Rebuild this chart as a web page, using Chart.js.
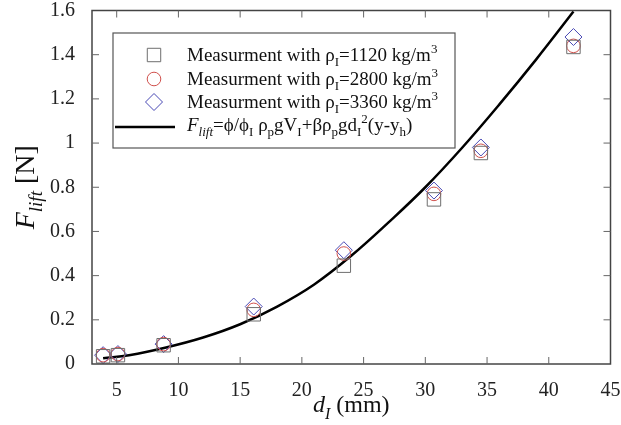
<!DOCTYPE html>
<html lang="en">
  <head>
    <meta charset="UTF-8" />
    <title>Lift force vs diameter</title>
    <script src="https://cdn.jsdelivr.net/npm/chart.js"></script>
    <style>
      body {
        margin: 0;
        background: white;
      }
      .wrap {
        width: 621px;
        height: 425px;
      }
    </style>
  </head>
  <body>
    <div class="wrap"><canvas id="liftChart" width="621" height="425"></canvas></div>

    <script>
      // measured sphere diameters d_I (mm)
      let diameters = [3.9, 5.1, 8.8, 16.1, 23.4, 30.7, 34.5, 42];
      // F_lift (N) for each density
      let lift1120 = [0.035, 0.04, 0.085, 0.225, 0.445, 0.745, 0.955, 1.435];
      let lift2800 = [0.04, 0.045, 0.09, 0.245, 0.5, 0.77, 0.965, 1.44];
      let lift3360 = [0.04, 0.045, 0.09, 0.26, 0.515, 0.785, 0.98, 1.48];
      // model curve
      let curveD = [3.9, 6, 9, 12, 15, 18, 21, 24, 27, 30, 33, 36, 39, 42];
      let curveF = [0.026, 0.04, 0.075, 0.12, 0.18, 0.26, 0.36, 0.49, 0.64, 0.8, 0.98, 1.175, 1.38, 1.595];

      let xTicks = [5, 10, 15, 20, 25, 30, 35, 40, 45];
      let yTicks = [0, 0.2, 0.4, 0.6, 0.8, 1, 1.2, 1.4, 1.6];

      const SERIF = "'Liberation Serif', 'DejaVu Serif', serif";

      function toPoints(xs, ys) {
        return xs.map((x, i) => ({ x: x, y: ys[i] }));
      }

      // draw text runs: [text, mode] mode: "" normal, "i" italic, "s" sub, "S" sup, "is" italic sub
      function runFont(mode, size) {
        let small = mode.includes("s") || mode.includes("S");
        let italic = mode.includes("i");
        return (italic ? "italic " : "") + Math.round(small ? size * 0.68 : size) + "px " + SERIF;
      }
      function runWidth(ctx, runs, size) {
        let w = 0;
        runs.forEach((r) => {
          ctx.font = runFont(r[1], size);
          w += ctx.measureText(r[0]).width;
        });
        return w;
      }
      function drawRich(ctx, runs, x, y, size, align) {
        let w = runWidth(ctx, runs, size);
        let cx = align === "center" ? x - w / 2 : x;
        ctx.textAlign = "left";
        ctx.textBaseline = "alphabetic";
        runs.forEach((r) => {
          ctx.font = runFont(r[1], size);
          let dy = 0;
          if (r[1].includes("s")) dy = size * 0.28;
          if (r[1].includes("S")) dy = -size * 0.42;
          ctx.fillText(r[0], cx, y + dy);
          cx += ctx.measureText(r[0]).width;
        });
      }

      const frameAndText = {
        id: "frameAndText",
        afterDraw(chart) {
          let ctx = chart.ctx;
          let a = chart.chartArea;
          let xs = chart.scales.x;
          let ys = chart.scales.y;
          ctx.save();
          // frame
          ctx.strokeStyle = "#444";
          ctx.lineWidth = 1.5;
          ctx.strokeRect(a.left, a.top, a.right - a.left, a.bottom - a.top);
          // inward ticks on all sides
          ctx.lineWidth = 1;
          ctx.strokeStyle = "#666";
          ctx.beginPath();
          xTicks.forEach((v) => {
            let px = xs.getPixelForValue(v);
            if (px <= a.left + 1 || px >= a.right - 1) return;
            ctx.moveTo(px, a.bottom);
            ctx.lineTo(px, a.bottom - 7);
            ctx.moveTo(px, a.top);
            ctx.lineTo(px, a.top + 7);
          });
          yTicks.forEach((v) => {
            let py = ys.getPixelForValue(v);
            if (py <= a.top + 1 || py >= a.bottom - 1) return;
            ctx.moveTo(a.left, py);
            ctx.lineTo(a.left + 7, py);
            ctx.moveTo(a.right, py);
            ctx.lineTo(a.right - 7, py);
          });
          ctx.stroke();

          // legend box
          ctx.fillStyle = "white";
          ctx.fillRect(113, 33, 342, 115);
          ctx.strokeStyle = "#555";
          ctx.lineWidth = 1.2;
          ctx.strokeRect(113, 33, 342, 115);

          let rows = [
            { y: 55, label: "1120", ds: chart.data.datasets[0] },
            { y: 79, label: "2800", ds: chart.data.datasets[1] },
            { y: 102, label: "3360", ds: chart.data.datasets[2] },
          ];
          rows.forEach((r) => {
            ctx.strokeStyle = r.ds.borderColor;
            ctx.fillStyle = "rgba(0,0,0,0)";
            ctx.lineWidth = 1;
            Chart.helpers.drawPoint(ctx, { pointStyle: r.ds.pointStyle, radius: r.ds.pointRadius, borderWidth: 1 }, 154, r.y);
            ctx.fillStyle = "#111";
            drawRich(ctx, [["Measurment with ρ", ""], ["I", "s"], ["=" + r.label + " kg/m", ""], ["3", "S"]], 187, r.y + 6, 18.5, "left");
          });
          ctx.strokeStyle = "#000";
          ctx.lineWidth = 2.5;
          ctx.beginPath();
          ctx.moveTo(115, 127);
          ctx.lineTo(175, 127);
          ctx.stroke();
          ctx.fillStyle = "#111";
          drawRich(
            ctx,
            [
              ["F", "i"], ["lift", "is"], ["=ϕ/ϕ", ""], ["I", "s"], [" ρ", ""], ["p", "s"], ["gV", ""], ["I", "s"],
              ["+βρ", ""], ["p", "s"], ["gd", ""], ["I", "s"], ["2", "S"], ["(y-y", ""], ["h", "s"], [")", ""],
            ],
            187, 131, 19, "left"
          );

          // axis titles
          ctx.fillStyle = "#111";
          drawRich(ctx, [["d", "i"], ["I", "is"], [" (mm)", ""]], (a.left + a.right) / 2, 412, 24, "center");
          ctx.translate(34, (a.top + a.bottom) / 2);
          ctx.rotate(-Math.PI / 2);
          drawRich(ctx, [["F", "i"], ["lift", "is"], [" [N]", ""]], 0, 0, 28, "center");
          ctx.restore();
        },
      };

      let ctx = document.getElementById("liftChart").getContext("2d");
      let liftChart = new Chart(ctx, {
        type: "scatter",
        data: {
          datasets: [
            {
              label: "ρI=1120",
              data: toPoints(diameters, lift1120),
              pointStyle: "rect",
              pointRadius: 9.5,
              borderColor: "#6e6e6e",
              backgroundColor: "transparent",
              pointBorderWidth: 1,
            },
            {
              label: "ρI=2800",
              data: toPoints(diameters, lift2800),
              pointStyle: "circle",
              pointRadius: 6.8,
              borderColor: "#d0504c",
              backgroundColor: "transparent",
              pointBorderWidth: 1,
            },
            {
              label: "ρI=3360",
              data: toPoints(diameters, lift3360),
              pointStyle: "rectRot",
              pointRadius: 8.5,
              borderColor: "#4848b4",
              backgroundColor: "transparent",
              pointBorderWidth: 1,
            },
            {
              type: "line",
              label: "model",
              data: toPoints(curveD, curveF),
              borderColor: "#000",
              borderWidth: 2.5,
              pointRadius: 0,
              tension: 0.4,
              fill: false,
            },
          ],
        },
        options: {
          responsive: false,
          animation: false,
          layout: { padding: { left: 0, top: 8, right: 8, bottom: 0 } },
          plugins: {
            legend: { display: false },
            tooltip: { enabled: false },
          },
          scales: {
            x: {
              type: "linear",
              min: 3,
              max: 45,
              afterBuildTicks: (s) => (s.ticks = xTicks.map((v) => ({ value: v }))),
              afterFit: (s) => {
                s.height = 61;
                s.paddingLeft = 0;
                s.paddingRight = 0;
              },
              grid: { display: false },
              border: { display: false },
              ticks: { color: "#222", padding: 7, maxRotation: 0, font: { family: SERIF, size: 20 } },
            },
            y: {
              min: 0,
              max: 1.6,
              afterBuildTicks: (s) => (s.ticks = yTicks.map((v) => ({ value: v }))),
              afterFit: (s) => {
                s.width = 92;
                s.paddingTop = 0;
                s.paddingBottom = 0;
              },
              grid: { display: false },
              border: { display: false },
              ticks: {
                color: "#222",
                padding: 9,
                font: { family: SERIF, size: 20 },
                callback: (v) => String(Math.round(v * 10) / 10),
              },
            },
          },
        },
        plugins: [frameAndText],
      });
    </script>
  </body>
</html>
